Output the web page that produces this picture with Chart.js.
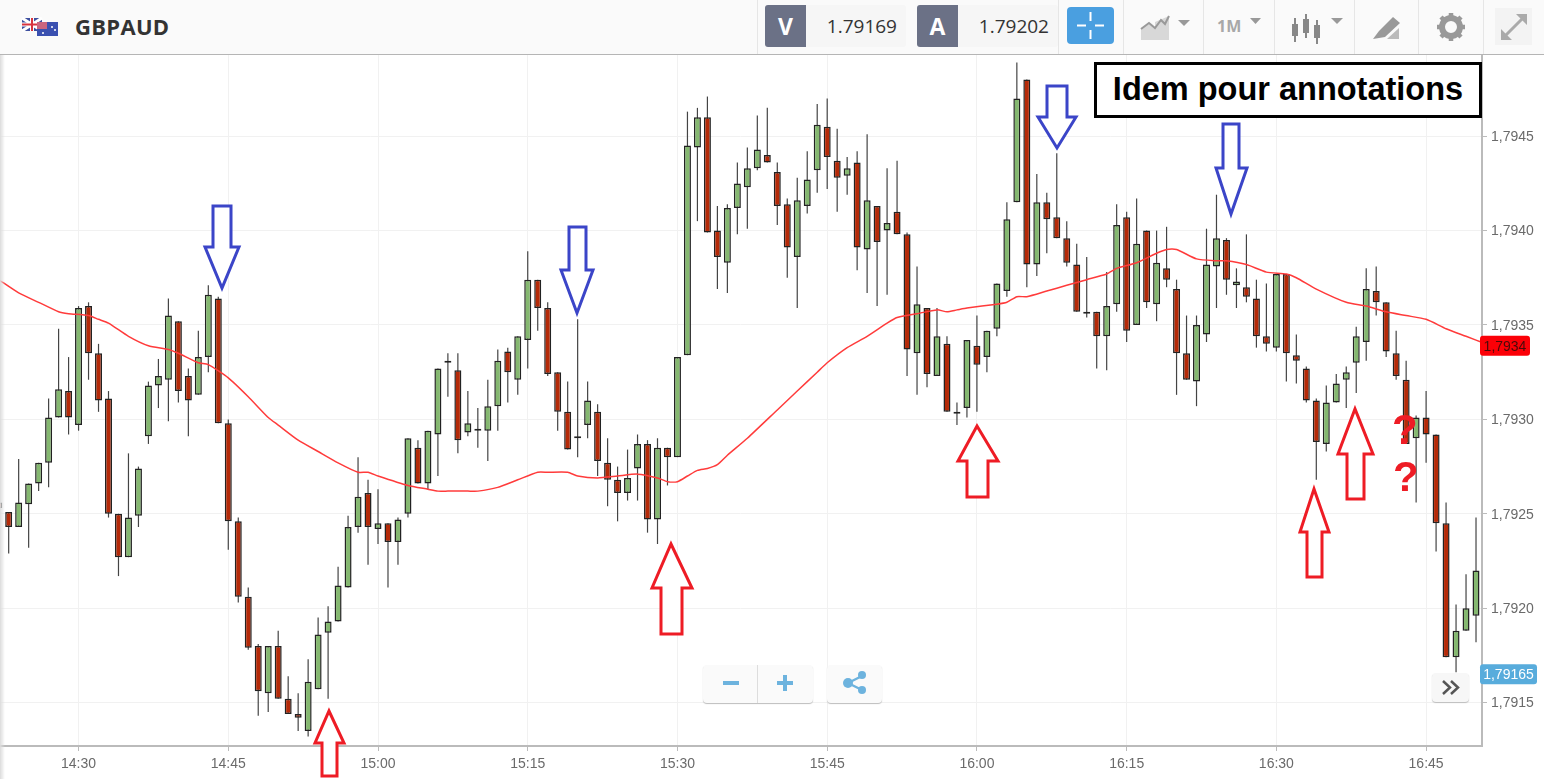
<!DOCTYPE html>
<html>
<head>
<meta charset="utf-8">
<title>GBPAUD</title>
<script src="https://cdn.jsdelivr.net/npm/chart.js@4/dist/chart.umd.min.js"></script>
<style>
html, body { margin: 0; padding: 0; background: #fff; }
body { width: 1544px; height: 779px; position: relative; overflow: hidden; font-family: "Liberation Sans", Arial, sans-serif; }
#chartBox { position: absolute; left: 0; top: 55px; width: 1544px; height: 724px; }
#topBar { position: absolute; left: 0; top: 0; width: 1544px; height: 54px; background: #fafafa; border-bottom: 1px solid #b5b5b5; }
#topBar .sep { position: absolute; top: 0; width: 1px; height: 54px; background: #e6e6e6; }
#symbol { position: absolute; left: 75px; top: 11px; font: bold 22px "Open Sans", sans-serif; color: #333; letter-spacing: 0.3px; }
.side { position: absolute; top: 5px; height: 42px; width: 41px; background: #6b7186; color: #fff; font: bold 23px/42px "Open Sans", sans-serif; text-align: center; border-radius: 3px 0 0 3px; }
.quote { position: absolute; top: 5px; height: 42px; width: 100px; box-sizing: border-box; background: #f6f6f6; border-radius: 0 3px 3px 0; color: #333; font: 19px/42px "Open Sans", sans-serif; text-align: right; padding-right: 9px; }
#cross { position: absolute; left: 1067px; top: 7px; width: 47px; height: 37px; background: #4a9fe0; border-radius: 4px; }
#oneM { position: absolute; left: 1217px; top: 15px; font: bold 16px "Open Sans", sans-serif; color: #a8a8a8; }
svg.icon { position: absolute; overflow: visible; }
#fullBg { position: absolute; left: 1495px; top: 8px; width: 37px; height: 37px; background: #f3f3f3; }
#edge { position: absolute; left: 0; top: 55px; width: 5px; height: 724px; background: linear-gradient(to right, #dcdcdc, rgba(255,255,255,0)); }
#marks { position: absolute; left: 0; top: 0; width: 1544px; height: 779px; }
#noteBox { position: absolute; left: 1094px; top: 62px; width: 388px; height: 56px; box-sizing: border-box; border: 3px solid #000; background: #fff; color: #000; font: bold 32.500px/49px "Liberation Sans", Arial, sans-serif; text-align: center; white-space: nowrap; }
.ask { position: absolute; color: #ee1c25; font: bold 42px/42px "Liberation Sans", Arial, sans-serif; }
.btn { position: absolute; background: #fafafa; border-radius: 4px; box-shadow: 0 1px 1px #bdbdbd; }
</style>
</head>
<body>
<div id="chartBox"><canvas id="priceChart"></canvas></div>
<div id="edge"></div>

<div id="topBar">
  <svg class="icon" style="left:22px;top:18px" width="36" height="18" viewBox="0 0 36 18">
    <rect x="0" y="0" width="20" height="13" fill="#3d4f9f"/>
    <path d="M0 0L20 13M20 0L0 13" stroke="#fff" stroke-width="3"/>
    <path d="M10 0V13M0 6.5H20" stroke="#fff" stroke-width="4"/>
    <path d="M10 0V13M0 6.5H20" stroke="#d8343f" stroke-width="2"/>
    <rect x="15" y="4" width="21" height="14" fill="#3a50b0"/>
    <rect x="15" y="4" width="10" height="7" fill="#c9657f"/>
    <circle cx="30" cy="9" r="1" fill="#fff"/><circle cx="33" cy="12" r="1" fill="#fff"/><circle cx="21" cy="15" r="1" fill="#fff"/>
  </svg>
  <div id="symbol">GBPAUD</div>
  <div class="side" style="left:765px">V</div><div class="quote" style="left:806px">1.79169</div>
  <div class="side" style="left:917px">A</div><div class="quote" style="left:958px">1.79202</div>
  <div id="cross">
    <svg class="icon" style="left:0;top:0" width="47" height="37"><path d="M23.5 5V14M23.5 23V32M10 18.5H19M28 18.5H37" stroke="#fff" stroke-width="2"/></svg>
  </div>
  <svg class="icon" style="left:1140px;top:14px" width="52" height="28">
    <path d="M1 26V14L9 10L15 14V26ZM15 26V8L29 2V26Z" fill="#d8d8d8"/>
    <path d="M1 15L9 9L15 14L21 6L25 10L29 2" stroke="#999" stroke-width="2" fill="none"/>
    <path d="M38 6H50L44 12Z" fill="#999"/>
  </svg>
  <div id="oneM">1M</div>
  <svg class="icon" style="left:1250px;top:18px" width="12" height="8"><path d="M0 0H11L5.500 6Z" fill="#999"/></svg>
  <svg class="icon" style="left:1290px;top:12px" width="56" height="34">
    <path d="M5 6V30M16 2V26M27 8V32" stroke="#888" stroke-width="2"/>
    <rect x="2" y="12" width="6" height="12" fill="#888"/><rect x="13" y="7" width="6" height="14" fill="#888"/><rect x="24" y="13" width="6" height="13" fill="#888"/>
    <path d="M41 6H53L47 12Z" fill="#999"/>
  </svg>
  <svg class="icon" style="left:1373px;top:15px" width="28" height="26">
    <path d="M0 24L6 16L20 2L27 8L12 22Z" fill="#999"/>
    <path d="M14 24L26 13V24Z" fill="#bbb"/>
  </svg>
  <svg class="icon" style="left:1437px;top:13px" width="28" height="28" viewBox="0 0 28 28">
    <circle cx="14" cy="14" r="9" fill="none" stroke="#999" stroke-width="6"/>
    <path d="M14 0V5M14 23V28M0 14H5M23 14H28M4 4L8 8M20 20L24 24M24 4L20 8M8 20L4 24" stroke="#999" stroke-width="4.500"/>
  </svg>
  <div id="fullBg"></div>
  <svg class="icon" style="left:1500px;top:13px" width="28" height="28">
    <path d="M4 24L24 4" stroke="#aaa" stroke-width="3"/>
    <path d="M16 1H27V12ZM1 16V27H12Z" fill="#aaa"/>
  </svg>
  <div class="sep" style="left:757px"></div>
  <div class="sep" style="left:1058px"></div>
  <div class="sep" style="left:1123px"></div>
  <div class="sep" style="left:1203px"></div>
  <div class="sep" style="left:1274px"></div>
  <div class="sep" style="left:1354px"></div>
  <div class="sep" style="left:1418px"></div>
  <div class="sep" style="left:1483px"></div>
</div>

<div class="btn" style="left:703px;top:665px;width:110px;height:38px">
  <svg class="icon" style="left:0;top:0" width="110" height="38">
    <path d="M54.500 0V38" stroke="#ddd" stroke-width="1"/>
    <path d="M20 18H36" stroke="#6db3de" stroke-width="4"/>
    <path d="M74 18H90M82 10V26" stroke="#6db3de" stroke-width="4"/>
  </svg>
</div>
<div class="btn" style="left:827px;top:665px;width:55px;height:38px">
  <svg class="icon" style="left:0;top:0" width="55" height="38">
    <path d="M21 18L35 11M21 18L35 25" stroke="#6db3de" stroke-width="2.500"/>
    <circle cx="21" cy="18" r="5" fill="#6db3de"/><circle cx="35" cy="10" r="4" fill="#6db3de"/><circle cx="35" cy="25" r="4" fill="#6db3de"/>
  </svg>
</div>
<div class="btn" style="left:1432px;top:673px;width:37px;height:29px;background:#f7f7f7">
  <svg class="icon" style="left:0;top:0" width="37" height="29">
    <path d="M11 8L18 14.500L11 21M19 8L26 14.500L19 21" stroke="#555" stroke-width="2.500" fill="none"/>
  </svg>
</div>

<svg id="marks">
  <g fill="#fff" stroke="#3b45c8" stroke-width="3" stroke-linejoin="miter">
    <polygon points="213,206 231,206 231,247 239,247 222,288 205,247 213,247"/>
    <polygon points="569,227 586,227 586,270 593,270 577,313 561,270 569,270"/>
    <polygon points="1047,86 1067,86 1067,117 1076,117 1057,148 1038,117 1047,117"/>
    <polygon points="1223,124 1239,124 1239,168 1247,168 1231,214 1216,168 1223,168"/>
  </g>
  <g fill="#fff" stroke="#ee1c25" stroke-width="3" stroke-linejoin="miter">
    <polygon points="322,776 337,776 337,743 344,743 329,711 315,743 322,743"/>
    <polygon points="661,634 682,634 682,588 692,588 671,544 652,588 661,588"/>
    <polygon points="967,497 988,497 988,461 998,461 977,426 958,461 967,461"/>
    <polygon points="1307,577 1322,577 1322,532 1329,532 1314,489 1300,532 1307,532"/>
    <polygon points="1347,499 1364,499 1364,454 1373,454 1355,409 1338,454 1347,454"/>
  </g>
</svg>
<div id="noteBox">Idem pour annotations</div>
<div class="ask" style="left:1392px;top:409px">?</div>
<div class="ask" style="left:1393px;top:456px">?</div>

<script>
// one candle per minute, first one is 8 minutes before 14:30
const firstMinute = -8;

const highs = [
  1.79257,1.79251,1.79279,1.79266,1.79277,1.79311,1.79348,1.79333,1.79360,1.79362,
  1.79340,1.79315,1.79250,1.79282,1.79275,1.79320,1.79332,1.79364,1.79352,1.79327,
  1.79347,1.79371,1.79365,1.79300,1.79248,1.79211,1.79181,1.79180,1.79188,1.79164,
  1.79155,1.79173,1.79195,1.79201,1.79222,1.79249,1.79280,1.79268,1.79263,1.79245,
  1.79248,1.79290,1.79289,1.79294,1.79327,1.79335,1.79335,1.79315,1.79306,1.79321,
  1.79337,1.79338,1.79344,1.79389,1.79374,1.79362,1.79325,1.79320,1.79353,1.79320,
  1.79308,1.79290,1.79275,1.79284,1.79292,1.79289,1.79290,1.79285,1.79333,1.79463,
  1.79465,1.79471,1.79413,1.79414,1.79436,1.79444,1.79461,1.79465,1.79436,1.79417,
  1.79428,1.79442,1.79467,1.79470,1.79454,1.79439,1.79442,1.79451,1.79413,1.79433,
  1.79437,1.79399,1.79381,1.79359,1.79359,1.79344,1.79309,1.79342,1.79355,1.79347,
  1.79372,1.79415,1.79489,1.79480,1.79430,1.79420,1.79441,1.79405,1.79393,1.79386,
  1.79357,1.79378,1.79414,1.79410,1.79417,1.79400,1.79400,1.79402,1.79374,1.79355,
  1.79355,1.79401,1.79419,1.79396,1.79380,1.79398,1.79374,1.79372,1.79377,1.79377,
  1.79345,1.79328,1.79311,1.79318,1.79324,1.79328,1.79349,1.79380,1.79381,1.79362,
  1.79347,1.79331,1.79302,1.79315,1.79292,1.79256,1.79202,1.79218,1.79248
];
const lows = [
  1.79251,1.79229,1.79243,1.79232,1.79262,1.79264,1.79301,1.79292,1.79294,1.79321,
  1.79304,1.79248,1.79217,1.79227,1.79243,1.79287,1.79306,1.79299,1.79309,1.79291,
  1.79313,1.79325,1.79298,1.79231,1.79203,1.79178,1.79143,1.79145,1.79152,1.79144,
  1.79135,1.79132,1.79157,1.79152,1.79193,1.79211,1.79240,1.79223,1.79234,1.79211,
  1.79223,1.79248,1.79266,1.79263,1.79270,1.79312,1.79282,1.79291,1.79285,1.79278,
  1.79294,1.79309,1.79313,1.79327,1.79347,1.79323,1.79294,1.79284,1.79280,1.79290,
  1.79270,1.79254,1.79246,1.79257,1.79257,1.79240,1.79234,1.79265,1.79280,1.79334,
  1.79405,1.79399,1.79369,1.79367,1.79398,1.79401,1.79432,1.79436,1.79403,1.79375,
  1.79359,1.79409,1.79420,1.79422,1.79410,1.79419,1.79379,1.79367,1.79360,1.79366,
  1.79398,1.79323,1.79313,1.79317,1.79323,1.79304,1.79297,1.79301,1.79304,1.79325,
  1.79344,1.79365,1.79415,1.79370,1.79376,1.79388,1.79396,1.79381,1.79357,1.79354,
  1.79327,1.79326,1.79357,1.79341,1.79350,1.79359,1.79352,1.79370,1.79313,1.79321,
  1.79307,1.79341,1.79359,1.79366,1.79359,1.79362,1.79338,1.79336,1.79336,1.79320,
  1.79319,1.79309,1.79268,1.79283,1.79309,1.79306,1.79314,1.79331,1.79355,1.79333,
  1.79321,1.79287,1.79256,1.79277,1.79230,1.79174,1.79166,1.79188,1.79182
];
const opens = [
  1.79256,1.79251,1.79243,1.79255,1.79266,1.79277,1.79301,1.79315,1.79297,1.79360,
  1.79335,1.79311,1.79250,1.79227,1.79249,1.79291,1.79318,1.79321,1.79352,1.79323,
  1.79313,1.79333,1.79364,1.79298,1.79246,1.79206,1.79180,1.79155,1.79180,1.79152,
  1.79144,1.79135,1.79157,1.79187,1.79193,1.79211,1.79243,1.79261,1.79242,1.79245,
  1.79235,1.79250,1.79285,1.79266,1.79292,1.79330,1.79326,1.79293,1.79294,1.79294,
  1.79307,1.79336,1.79321,1.79342,1.79374,1.79359,1.79325,1.79304,1.79290,1.79297,
  1.79304,1.79277,1.79268,1.79261,1.79274,1.79287,1.79247,1.79285,1.79280,1.79334,
  1.79444,1.79460,1.79400,1.79383,1.79412,1.79423,1.79433,1.79440,1.79431,1.79414,
  1.79386,1.79413,1.79432,1.79455,1.79437,1.79429,1.79436,1.79390,1.79413,1.79400,
  1.79410,1.79398,1.79335,1.79359,1.79323,1.79340,1.79303,1.79306,1.79339,1.79333,
  1.79348,1.79368,1.79415,1.79480,1.79382,1.79415,1.79407,1.79396,1.79382,1.79356,
  1.79357,1.79344,1.79361,1.79407,1.79350,1.79400,1.79361,1.79380,1.79369,1.79335,
  1.79320,1.79345,1.79381,1.79395,1.79371,1.79370,1.79364,1.79344,1.79338,1.79377,
  1.79334,1.79327,1.79310,1.79287,1.79309,1.79321,1.79330,1.79341,1.79368,1.79362,
  1.79335,1.79321,1.79290,1.79301,1.79292,1.79245,1.79174,1.79188,1.79196
];
const closes = [
  1.79253,1.79243,1.79256,1.79266,1.79277,1.79301,1.79316,1.79301,1.79359,1.79335,
  1.79310,1.79250,1.79227,1.79248,1.79274,1.79318,1.79323,1.79355,1.79315,1.79310,
  1.79333,1.79366,1.79298,1.79246,1.79206,1.79179,1.79156,1.79180,1.79152,1.79144,
  1.79142,1.79161,1.79186,1.79193,1.79212,1.79243,1.79259,1.79243,1.79245,1.79235,
  1.79247,1.79290,1.79266,1.79294,1.79327,1.79331,1.79289,1.79298,1.79295,1.79307,
  1.79331,1.79325,1.79344,1.79374,1.79359,1.79324,1.79304,1.79284,1.79291,1.79310,
  1.79278,1.79268,1.79261,1.79269,1.79287,1.79247,1.79285,1.79280,1.79333,1.79445,
  1.79460,1.79399,1.79386,1.79412,1.79425,1.79433,1.79443,1.79436,1.79413,1.79391,
  1.79416,1.79427,1.79456,1.79439,1.79428,1.79433,1.79391,1.79416,1.79394,1.79404,
  1.79398,1.79337,1.79361,1.79324,1.79344,1.79304,1.79304,1.79342,1.79329,1.79347,
  1.79372,1.79406,1.79470,1.79382,1.79415,1.79406,1.79396,1.79383,1.79357,1.79357,
  1.79344,1.79360,1.79403,1.79347,1.79393,1.79362,1.79383,1.79374,1.79335,1.79321,
  1.79350,1.79382,1.79396,1.79374,1.79373,1.79365,1.79344,1.79340,1.79377,1.79335,
  1.79331,1.79310,1.79288,1.79309,1.79319,1.79325,1.79344,1.79369,1.79362,1.79336,
  1.79323,1.79287,1.79301,1.79292,1.79245,1.79174,1.79188,1.79200,1.79220
];

// moving average (minute after 14:30, price)
const maMinutes = [
  -8,-6,-4,-2,-1,1,2,3,5,7,9,10,12,13,15,17,19,20,22,24,26,28,29,30,33,35,36,37,39,40,
  42,44,46,47,49,50,52,54,56,58,59,60,61,62,63,64,65,67,70,72,74,75,77,79,81,82,84,86,87,88,
  89,92,93,94,95,97,99,101,103,104,106,108,109,110,112,114,115,117,119,121,122,124,127,129,131,133,135,137,139,141
];
const maValues = [
  1.79374,1.79367,1.79362,1.79357,1.79356,1.79355,1.79353,1.79351,1.79344,1.79339,1.79337,1.79335,1.79330,1.79329,1.79322,
  1.79312,1.79301,1.79297,1.79289,1.79283,1.79277,1.79272,1.79272,1.79270,1.79265,1.79263,1.79262,1.79262,1.79262,1.79262,
  1.79264,1.79268,1.79272,1.79272,1.79272,1.79270,1.79269,1.79270,1.79271,1.79269,1.79267,1.79267,1.79270,1.79273,1.79274,
  1.79276,1.79281,1.79290,1.79305,1.79315,1.79325,1.79330,1.79338,1.79344,1.79351,1.79354,1.79356,1.79358,1.79357,1.79358,
  1.79359,1.79361,1.79362,1.79365,1.79365,1.79368,1.79371,1.79374,1.79377,1.79380,1.79383,1.79388,1.79390,1.79390,1.79385,
  1.79384,1.79384,1.79382,1.79378,1.79377,1.79375,1.79369,1.79362,1.79360,1.79357,1.79355,1.79353,1.79348,1.79344,1.79340
];

const timeTicks = [0,15,30,45,60,75,90,105,120,135];
const timeLabels = ['14:30','14:45','15:00','15:15','15:30','15:45','16:00','16:15','16:30','16:45'];
const priceTicks = [1.7915,1.7920,1.7925,1.7930,1.7935,1.7940,1.7945];

const maTag = 1.79339;
const lastPrice = 1.79165;

const GREEN = '#85b870';
const RED = '#b52a08';

const commaPrice = (v, digits) => v.toFixed(digits).replace('.', ',');

// the little coloured price labels on the right axis
const priceTags = {
  id: 'priceTags',
  afterDraw(chart) {
    const { ctx, scales: { y } } = chart;
    const tag = (value, text, left, width, bg, fg) => {
      const py = y.getPixelForValue(value);
      ctx.save();
      ctx.fillStyle = bg;
      ctx.beginPath();
      ctx.roundRect(left, py - 10, width, 20, 3);
      ctx.fill();
      ctx.fillStyle = fg;
      ctx.font = '14px "Liberation Sans"';
      ctx.textAlign = 'center';
      ctx.textBaseline = 'middle';
      ctx.fillText(text, left + width / 2, py + 1);
      ctx.restore();
    };
    tag(maTag, commaPrice(maTag, 4), 1480, 50, '#fb0007', '#4a0a0a');
    tag(lastPrice, commaPrice(lastPrice, 5), 1480, 57, '#58acdc', '#fff');
  }
};

const candleX = i => firstMinute + i;

new Chart(document.getElementById('priceChart'), {
  type: 'bar',
  plugins: [priceTags],
  data: {
    datasets: [
      {
        type: 'line',
        data: maMinutes.map((m, i) => ({ x: m, y: maValues[i] })),
        borderColor: '#ff3b3b',
        borderWidth: 1.5,
        pointRadius: 0,
        tension: 0.2,
        order: 0
      },
      {
        data: opens.map((o, i) => ({ x: candleX(i), y: [o, closes[i]] })),
        backgroundColor: opens.map((o, i) => closes[i] >= o ? GREEN : RED),
        borderColor: '#222',
        borderWidth: 1.5,
        borderSkipped: false,
        barThickness: 7,
        inflateAmount: 0,
        order: 1
      },
      {
        data: highs.map((h, i) => ({ x: candleX(i), y: [lows[i], h] })),
        backgroundColor: '#444',
        borderWidth: 0,
        barThickness: 1.2,
        inflateAmount: 0,
        order: 2
      }
    ]
  },
  options: {
    responsive: true,
    maintainAspectRatio: false,
    animation: false,
    layout: { padding: 0 },
    plugins: { legend: { display: false }, tooltip: { enabled: false } },
    datasets: { bar: { grouped: false } },
    scales: {
      x: {
        type: 'linear',
        offset: false,
        min: -7.87,
        max: 140.6,
        afterBuildTicks: axis => { axis.ticks = timeTicks.map(value => ({ value })); },
        afterFit: axis => { axis.height = 33; axis.paddingLeft = 0; axis.paddingRight = 0; },
        ticks: {
          autoSkip: false,
          maxRotation: 0,
          padding: 5,
          color: '#6a6a6a',
          font: { family: '"Liberation Sans"', size: 14 },
          callback: value => timeLabels[timeTicks.indexOf(value)]
        },
        grid: { offset: false, color: '#f1f1f1', tickColor: '#bbb', tickLength: 5 },
        border: { color: '#bbb', width: 2 }
      },
      y: {
        position: 'right',
        min: 1.79127,
        max: 1.79493,
        afterBuildTicks: axis => { axis.ticks = priceTicks.map(value => ({ value })); },
        afterFit: axis => { axis.width = 62; axis.paddingTop = 0; axis.paddingBottom = 0; },
        ticks: {
          padding: 4,
          labelOffset: 1,
          color: '#6a6a6a',
          font: { family: '"Liberation Sans"', size: 14 },
          callback: value => commaPrice(value, 4)
        },
        grid: { color: '#f1f1f1', tickColor: '#bbb', tickLength: 5 },
        border: { color: '#bbb', width: 2 }
      }
    }
  }
});
</script>
</body>
</html>
